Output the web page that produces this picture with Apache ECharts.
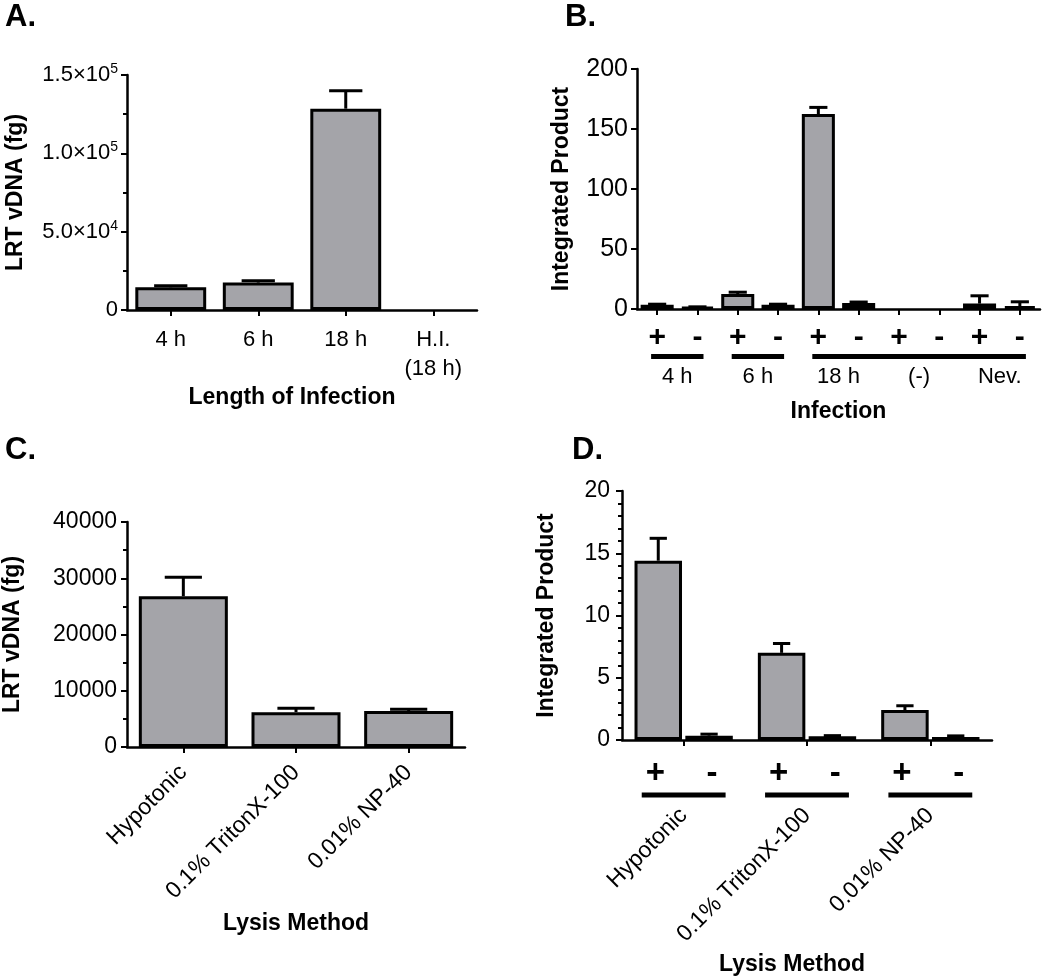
<!DOCTYPE html>
<html><head><meta charset="utf-8">
<script src="https://cdn.jsdelivr.net/npm/echarts@6/dist/echarts.min.js"></script>
<style>html,body{margin:0;padding:0;background:#fff}#c{width:1050px;height:979px}</style>
</head><body><div id="c"></div>
<script>
// ---- Panel A ----
const catsA = ['4 h', '6 h', '18 h', 'H.I.\n(18 h)'];
const valsA = [14500, 17500, 128500, 0];
const errsA = [900, 1200, 11500, 0];
const yTicksA = { 0: '{b|0}', 50000: '{b|5.0×10}{s|4}', 100000: '{b|1.0×10}{s|5}', 150000: '{b|1.5×10}{s|5}' };
// ---- Panel B ----
const catsB = ['+', '-', '+', '-', '+', '-', '+', '-', '+', '-'];
const valsB = [3.5, 1.5, 12.5, 3.5, 162.5, 5, 0, 0, 4.5, 2.5];
const errsB = [0.5, 0.3, 1.5, 0.5, 5.5, 0.8, 0, 0, 6.5, 3.5];
const groupsB = ['4 h', '6 h', '18 h', '(-)', 'Nev.'];
const groupStartB = [0, 2, 4];
const groupEndB = [1, 3, 9];
// ---- Panel C ----
const catsC = ['Hypotonic', '0.1% TritonX-100', '0.01% NP-40'];
const valsC = [26800, 6200, 6400];
const errsC = [3400, 700, 300];
// ---- Panel D ----
const catsD = ['Hypotonic', '0.1% TritonX-100', '0.01% NP-40'];
const signsD = ['+', '-'];
const valsDplus = [14.4, 7.0, 2.4];
const errsDplus = [1.8, 0.75, 0.35];
const valsDminus = [0.35, 0.3, 0.25];
const errsDminus = [0.12, 0.05, 0.08];

const FONT = '"Liberation Sans", Arial, sans-serif';
const BAR = '#a4a4a9';

function errSeries(xi, yi, vals, errs, offFrac, capFrac) {
  return {
    type: 'custom', xAxisIndex: xi, yAxisIndex: yi, z: 5, clip: false,
    data: vals.map((v, i) => [i, v, errs[i]]),
    encode: { x: 0, y: 1 },
    renderItem: function (params, api) {
      const i = api.value(0), v = api.value(1), e = api.value(2);
      if (!e) return { type: 'group', children: [] };
      const band = api.size([1, 0])[0];
      const base = api.coord([i, v]);
      const top = api.coord([i, v + e]);
      const x = base[0] + band * offFrac;
      const half = band * capFrac / 2;
      return {
        type: 'group', children: [
          { type: 'line', shape: { x1: x, y1: base[1], x2: x, y2: top[1] }, style: { stroke: '#000', lineWidth: 3 } },
          { type: 'line', shape: { x1: x - half, y1: top[1], x2: x + half, y2: top[1] }, style: { stroke: '#000', lineWidth: 3 } }
        ]
      };
    }
  };
}

function barSeries(xi, yi, vals, width, extra) {
  return Object.assign({
    type: 'bar', xAxisIndex: xi, yAxisIndex: yi,
    data: vals.map(v => (v === 0 ? { value: 0, itemStyle: { borderWidth: 0, opacity: 0 } } : v)),
    barWidth: width,
    itemStyle: { color: BAR, borderColor: '#000', borderWidth: 3 }, z: 3
  }, extra || {});
}

function valueAxis(gi, max, interval, fs, margin, name, gap, minorSplit, formatter, rich) {
  const ax = {
    type: 'value', gridIndex: gi, min: 0, max: max, interval: interval,
    name: name, nameLocation: 'middle', nameGap: gap,
    nameTextStyle: { fontFamily: FONT, fontSize: 23, fontWeight: 'bold', color: '#000' },
    axisLine: { show: true, lineStyle: { color: '#000', width: 2.5 } },
    axisTick: { show: true, length: 6, lineStyle: { color: '#000', width: 2 } },
    minorTick: { show: !!minorSplit, splitNumber: minorSplit || 5, length: 4, lineStyle: { color: '#000', width: 2 } },
    splitLine: { show: false },
    axisLabel: { fontFamily: FONT, fontSize: fs, color: '#000', margin: margin, formatter: formatter || (v => String(v)) }
  };
  if (rich) ax.axisLabel.rich = rich;
  return ax;
}

function catAxis(gi, data, opts) {
  return Object.assign({
    type: 'category', gridIndex: gi, data: data, boundaryGap: true, position: 'bottom', offset: 0,
    axisLine: { show: true, lineStyle: { color: '#000', width: 2.5 } },
    axisTick: { show: true, alignWithLabel: true, length: 6, lineStyle: { color: '#000', width: 2 } },
    nameLocation: 'middle',
    nameTextStyle: { fontFamily: FONT, fontSize: 23, fontWeight: 'bold', color: '#000' }
  }, opts);
}

const chart = echarts.init(document.getElementById('c'), null, { renderer: 'canvas' });

const option = {
  animation: false,
  backgroundColor: '#fff',
  grid: [
    { left: 127, top: 75, width: 350, height: 235 },
    { left: 637, top: 69, width: 403, height: 240 },
    { left: 127, top: 522, width: 338, height: 225 },
    { left: 622, top: 491, width: 370, height: 249 }
  ],
  xAxis: [
    catAxis(0, catsA, {
      name: 'Length of Infection', nameGap: 76,
      nameTextStyle: { fontFamily: FONT, fontSize: 23, fontWeight: 'bold', color: '#000', padding: [0, 20, 0, 0] },
      axisLabel: { fontFamily: FONT, fontSize: 22, color: '#000', margin: 15, lineHeight: 29, interval: 0 }
    }),
    catAxis(1, catsB, {
      axisLabel: { fontFamily: FONT, fontSize: 30, fontWeight: 'bold', color: '#000', margin: 14, interval: 0 }
    }),
    catAxis(1, groupsB, {
      name: 'Infection', nameGap: 91,
      axisLine: { show: false }, axisTick: { show: false },
      axisLabel: { fontFamily: FONT, fontSize: 22, color: '#000', margin: 57, interval: 0 }
    }),
    catAxis(2, catsC, {
      name: 'Lysis Method', nameGap: 165,
      axisLabel: { fontFamily: FONT, fontSize: 23, color: '#000', margin: 22, rotate: 45, interval: 0 }
    }),
    catAxis(3, catsD, {
      name: 'Lysis Method', nameGap: 213,
      nameTextStyle: { fontFamily: FONT, fontSize: 23, fontWeight: 'bold', color: '#000', padding: [0, 30, 0, 0] },
      axisLabel: { fontFamily: FONT, fontSize: 23, color: '#000', margin: 72, rotate: 45, interval: 0 }
    })
  ],
  yAxis: [
    valueAxis(0, 150000, 50000, 22, 9, 'LRT vDNA (fg)', 100, 2,
      v => (yTicksA[v] !== undefined ? yTicksA[v] : ''),
      { b: { fontFamily: FONT, fontSize: 22, lineHeight: 26, color: '#000' },
        s: { fontFamily: FONT, fontSize: 14, lineHeight: 14, verticalAlign: 'top', color: '#000' } }),
    valueAxis(1, 200, 50, 25, 9, 'Integrated Product', 64, 0),
    valueAxis(2, 40000, 10000, 23, 10, 'LRT vDNA (fg)', 103, 2),
    valueAxis(3, 20, 5, 23, 12, 'Integrated Product', 64, 5)
  ],
  series: [
    barSeries(0, 0, valsA, '81%'),
    errSeries(0, 0, valsA, errsA, 0, 0.38),
    barSeries(1, 1, valsB, '82%'),
    errSeries(1, 1, valsB, errsB, 0, 0.45),
    {
      type: 'custom', xAxisIndex: 1, yAxisIndex: 1, clip: false, z: 5,
      data: groupStartB.map((s, i) => [s, 0, groupEndB[i]]),
      encode: { x: 0, y: 1 },
      renderItem: function (params, api) {
        const band = api.size([1, 0])[0];
        const a = api.coord([api.value(0), 0]);
        const b = api.coord([api.value(2), 0]);
        return { type: 'rect', shape: { x: a[0] - band * 0.15, y: a[1] + 45, width: b[0] - a[0] + band * 0.3, height: 5 }, style: { fill: '#000' } };
      }
    },
    barSeries(3, 2, valsC, '79%'),
    errSeries(3, 2, valsC, errsC, 0, 0.33),
    barSeries(4, 3, valsDplus, '38.5%', { name: signsD[0], barGap: '7%' }),
    barSeries(4, 3, valsDminus, '38.5%', { name: signsD[1], barGap: '7%' }),
    errSeries(4, 3, valsDplus, errsDplus, -0.206, 0.14),
    errSeries(4, 3, valsDminus, errsDminus, 0.206, 0.14),
    {
      type: 'custom', xAxisIndex: 4, yAxisIndex: 3, clip: false, z: 5,
      data: catsD.map((c, i) => [i, 0]),
      encode: { x: 0, y: 1 },
      renderItem: function (params, api) {
        const band = api.size([1, 0])[0];
        const c = api.coord([api.value(0), 0]);
        return {
          type: 'group', children: [
            { type: 'text', x: c[0] - band * 0.23, y: c[1] + 34, style: { text: signsD[0], font: 'bold 33px ' + FONT, fill: '#000', align: 'center', verticalAlign: 'middle' } },
            { type: 'text', x: c[0] + band * 0.23, y: c[1] + 34, style: { text: signsD[1], font: 'bold 33px ' + FONT, fill: '#000', align: 'center', verticalAlign: 'middle' } },
            { type: 'rect', shape: { x: c[0] - band * 0.34, y: c[1] + 52.5, width: band * 0.68, height: 5 }, style: { fill: '#000' } }
          ]
        };
      }
    }
  ],
  graphic: [
    { type: 'text', left: 5, top: 2, style: { text: 'A.', font: 'bold 31px ' + FONT, fill: '#000' } },
    { type: 'text', left: 565, top: 2, style: { text: 'B.', font: 'bold 31px ' + FONT, fill: '#000' } },
    { type: 'text', left: 5, top: 435, style: { text: 'C.', font: 'bold 31px ' + FONT, fill: '#000' } },
    { type: 'text', left: 572, top: 435, style: { text: 'D.', font: 'bold 31px ' + FONT, fill: '#000' } }
  ]
};
chart.setOption(option);
</script>
</body></html>
